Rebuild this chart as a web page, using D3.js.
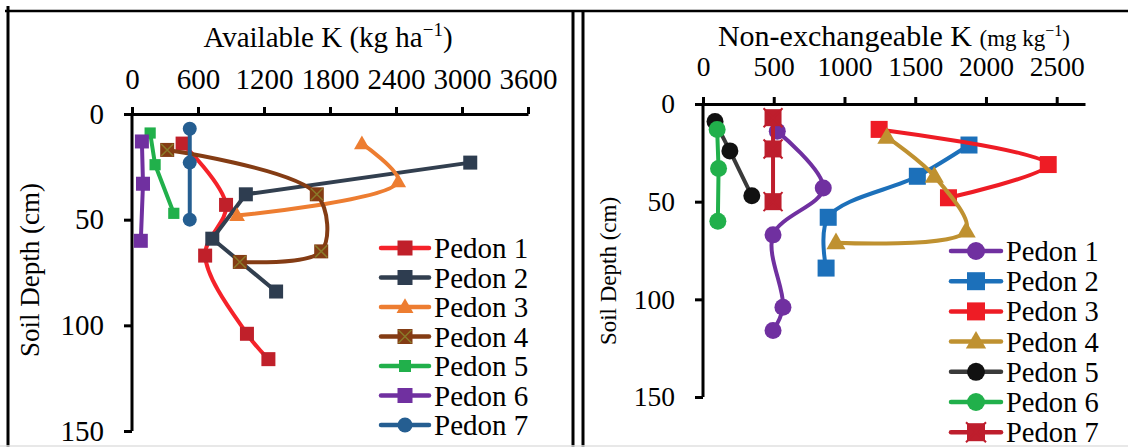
<!DOCTYPE html>
<html>
<head>
<meta charset="utf-8">
<script src="https://cdn.jsdelivr.net/npm/d3@7"></script>
<style>
  body { margin: 0; background: #fff; }
  svg text { font-family: "Liberation Serif", Tinos, "Times New Roman", Times, "DejaVu Serif", serif; fill: #000; }
</style>
</head>
<body>
<script>
// data
const pedons = ["Pedon 1", "Pedon 2", "Pedon 3", "Pedon 4", "Pedon 5", "Pedon 6", "Pedon 7"];

// Available K (kg/ha) vs soil depth (cm)
const availK = [
  [460, 855, 665, 1045, 1240],
  [3075, 1035, 730, 1310],
  [2090, 2420, 955],
  [320, 1680, 1720, 980],
  [165, 210, 380],
  [90, 100, 80],
  [525, 525, 525]
];
const availDepth = [
  [14, 43, 67, 104, 116],
  [23, 38, 59, 84],
  [14, 32, 48],
  [17, 38, 65, 70],
  [9, 24, 47],
  [13, 33, 60],
  [7, 23, 50]
];

// Non-exchangeable K (mg/kg) vs soil depth (cm)
const nonExK = [
  [525, 850, 495, 565, 495],
  [1880, 1515, 885, 870],
  [1245, 2440, 1735],
  [1300, 1635, 1860, 940],
  [85, 190, 345],
  [100, 110, 105],
  [495, 495, 495]
];
const nonExDepth = [
  [14, 43, 67, 104, 116],
  [21, 37, 58, 84],
  [13, 31, 48],
  [17, 37, 65, 71],
  [9, 24, 47],
  [13, 33, 60],
  [7, 23, 50]
];

const availTicks = [0, 600, 1200, 1800, 2400, 3000, 3600];
const nonExTicks = [0, 500, 1000, 1500, 2000, 2500];
const depthTicks = [0, 50, 100, 150];

// styles per pedon
const leftStyle = [
  {line: "#f5222a", fill: "#c0202a", mark: "square", smooth: true},
  {line: "#323f4f", fill: "#2e3d50", mark: "square", smooth: false},
  {line: "#ed7d31", fill: "#ed7d31", mark: "triangle", smooth: true},
  {line: "#843c14", fill: "#843c14", mark: "xsquare", smooth: true},
  {line: "#21b04b", fill: "#21b04b", mark: "small", smooth: false},
  {line: "#7030a0", fill: "#7030a0", mark: "square", smooth: false},
  {line: "#255e91", fill: "#255e91", mark: "circle", smooth: false}
];
const rightStyle = [
  {line: "#7030a0", fill: "#7030a0", mark: "circle", smooth: true},
  {line: "#1c70ba", fill: "#1c70ba", mark: "square", smooth: true},
  {line: "#ee1c25", fill: "#ee1c25", mark: "square", smooth: true},
  {line: "#bf9130", fill: "#bf9130", mark: "triangle", smooth: true},
  {line: "#3a3a3a", fill: "#111111", mark: "circle", smooth: false},
  {line: "#21b04b", fill: "#21b04b", mark: "circle", smooth: false},
  {line: "#be1e2d", fill: "#be1e2d", mark: "star", smooth: false}
];

const W = 1128, H = 447;
const svg = d3.select("body").append("svg").attr("width", W).attr("height", H);

// frame around the two panels
const frame = svg.append("g").attr("stroke", "#000").attr("fill", "none");
frame.append("line").attr("x1", 5).attr("x2", W).attr("y1", 11).attr("y2", 11).attr("stroke-width", 2.5);
frame.append("line").attr("x1", 8).attr("x2", 8).attr("y1", 6).attr("y2", H).attr("stroke-width", 3);
frame.append("line").attr("x1", 573).attr("x2", 573).attr("y1", 11).attr("y2", H).attr("stroke-width", 3);
frame.append("line").attr("x1", 583).attr("x2", 583).attr("y1", 11).attr("y2", H).attr("stroke-width", 3);
frame.append("line").attr("x1", 0).attr("x2", W).attr("y1", 446).attr("y2", 446).attr("stroke", "#e0e0e0").attr("stroke-width", 1.5);

// draw one marker at (cx, cy)
function marker(g, type, cx, cy, s, st) {
  if (type === "circle") {
    g.append("circle").attr("cx", cx).attr("cy", cy).attr("r", s / 2).attr("fill", st.fill);
  } else if (type === "triangle") {
    g.append("path").attr("transform", `translate(${cx},${cy + 1})`)
      .attr("d", d3.symbol(d3.symbolTriangle, s * s * 0.55)()).attr("fill", st.fill);
  } else if (type === "small") {
    const k = s * 0.8;
    g.append("rect").attr("x", cx - k / 2).attr("y", cy - k / 2).attr("width", k).attr("height", k).attr("fill", st.fill);
  } else {
    g.append("rect").attr("x", cx - s / 2).attr("y", cy - s / 2).attr("width", s).attr("height", s).attr("fill", st.fill);
    if (type === "xsquare") {
      const h = s / 2 - 1;
      g.append("path").attr("d", `M${cx - h},${cy - h}L${cx + h},${cy + h}M${cx + h},${cy - h}L${cx - h},${cy + h}`)
        .attr("stroke", "#8a7a2a").attr("stroke-width", 1.5);
    }
    if (type === "star") {
      const h = s / 2 + 1;
      g.append("path").attr("d", `M${cx - h},${cy - h}L${cx + h},${cy + h}M${cx + h},${cy - h}L${cx - h},${cy + h}`)
        .attr("stroke", st.fill).attr("stroke-width", 2);
    }
  }
}

function panel(opt) {
  const x = d3.scaleLinear().domain(opt.xDomain).range(opt.xRange);
  const y = d3.scaleLinear().domain([0, 150]).range(opt.yRange);
  const g = svg.append("g");

  // x axis on top
  const xa = g.append("g").attr("transform", `translate(0,${opt.yRange[0]})`)
    .call(d3.axisTop(x).tickValues(opt.xTicks).tickSize(7).tickSizeOuter(0).tickPadding(opt.xPad).tickFormat(d3.format("d")));
  // y axis on left
  const ya = g.append("g").attr("transform", `translate(${opt.xRange[0]},0)`)
    .call(d3.axisLeft(y).tickValues(depthTicks).tickSize(8).tickSizeOuter(0).tickPadding(opt.yPad));
  [xa, ya].forEach(a => {
    a.attr("font-family", null);
    a.select(".domain").attr("stroke-width", 3).attr("stroke", "#000");
    a.selectAll(".tick line").attr("stroke-width", 3).attr("stroke", "#000");
    a.selectAll(".tick text").attr("font-size", opt.tickFont);
  });
  ya.select(".domain").attr("d", `M0,${opt.yRange[0]}V${opt.yRange[1]}`);

  // series
  opt.vals.forEach((vals, i) => {
    const st = opt.style[i];
    const pts = vals.map((v, j) => [x(v), y(opt.depths[i][j])]);
    const line = d3.line().curve(st.smooth ? d3.curveCatmullRom.alpha(0.5) : d3.curveLinear);
    g.append("path").attr("d", line(pts)).attr("fill", "none")
      .attr("stroke", st.line).attr("stroke-width", 4).attr("stroke-linejoin", "round");
    const mg = g.append("g");
    pts.forEach(p => marker(mg, st.mark, p[0], p[1], opt.markSize, st));
  });

  // legend
  const lg = g.append("g");
  pedons.forEach((name, i) => {
    const st = opt.style[i];
    const ly = opt.legY + i * opt.legStep;
    lg.append("line").attr("x1", opt.legX).attr("x2", opt.legX + opt.legLen).attr("y1", ly).attr("y2", ly)
      .attr("stroke", st.line).attr("stroke-width", 4.5).attr("stroke-linecap", "round");
    marker(lg, st.mark, opt.legX + opt.legLen / 2, ly, opt.markSize + 1, st);
    lg.append("text").attr("x", opt.legX + opt.legLen + 5).attr("y", ly).attr("dy", "0.35em")
      .attr("font-size", opt.legFont).text(name);
  });

  // y title
  g.append("text").attr("transform", `translate(${opt.yTitleX},${opt.yTitleY}) rotate(-90)`)
    .attr("text-anchor", "middle").attr("font-size", opt.yTitleFont).text("Soil Depth (cm)");
  return g;
}

const left = panel({
  xDomain: [0, 3600], xRange: [132, 528], yRange: [114, 431], xTicks: availTicks,
  xPad: 18, yPad: 20, tickFont: 29,
  vals: availK, depths: availDepth, style: leftStyle, markSize: 14,
  legX: 381, legY: 248, legStep: 29.5, legLen: 48, legFont: 29,
  yTitleX: 39, yTitleY: 270, yTitleFont: 27
});
const lt = left.append("text").attr("x", 328).attr("y", 47).attr("text-anchor", "middle").attr("font-size", 29);
lt.append("tspan").text("Available K (kg ha");
lt.append("tspan").attr("font-size", 19).attr("dy", -11).text("−1");
lt.append("tspan").attr("dy", 11).text(")");

const right = panel({
  xDomain: [0, 2700], xRange: [703, 1085], yRange: [104, 397], xTicks: nonExTicks,
  xPad: 21, yPad: 20, tickFont: 27.5,
  vals: nonExK, depths: nonExDepth, style: rightStyle, markSize: 17,
  legX: 951, legY: 251, legStep: 30.2, legLen: 50, legFont: 28.5,
  yTitleX: 616, yTitleY: 271, yTitleFont: 23
});
const rt = right.append("text").attr("x", 894).attr("y", 46).attr("text-anchor", "middle").attr("font-size", 30);
rt.append("tspan").text("Non-exchangeable K ");
rt.append("tspan").attr("font-size", 23).text("(mg kg");
rt.append("tspan").attr("font-size", 16).attr("dy", -10).text("−1");
rt.append("tspan").attr("font-size", 23).attr("dy", 10).text(")");
</script>
</body>
</html>
